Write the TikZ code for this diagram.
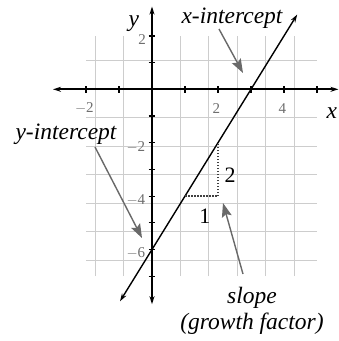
\documentclass[tikz,border=0pt]{standalone}
\usepackage{fontspec}
\setmainfont{Liberation Serif}
\usetikzlibrary{arrows.meta}
\definecolor{gridgray}{RGB}{205,205,205}
\definecolor{annot}{RGB}{105,105,105}
\definecolor{ticklbl}{RGB}{110,110,110}
\tikzset{
  gridline/.style={draw=gridgray, line width=0.9pt},
  axisline/.style={draw=black, line width=1.7pt, {Stealth[length=8pt,width=5pt]}-{Stealth[length=8pt,width=5pt]}},
  tickmark/.style={draw=black, line width=1.2pt},
  graphline/.style={draw=black, line width=1.4pt, {Stealth[length=8pt,width=5pt]}-{Stealth[length=8pt,width=5pt]}},
  slopetri/.style={draw=black!75, line width=1.6pt, dash pattern=on 1.5pt off 1.5pt},
  pointer/.style={draw=annot, line width=1.4pt, -{Stealth[length=14pt,width=10pt,inset=2.5pt]}},
  lbl/.style={font=\fontsize{23.5}{26}\selectfont\itshape, inner sep=0pt},
  ticklabel/.style={font=\fontsize{15}{16}\selectfont, text=ticklbl, inner sep=0pt},
  numlbl/.style={font=\fontsize{22}{24}\selectfont, inner sep=0pt},
}
\begin{document}
\begin{tikzpicture}[x=1pt,y=1pt]
\useasboundingbox (0,0) rectangle (339,-341);
\begin{scope}[shift={(152pt,-89.3pt)}, x=33pt, y=26.7pt]
  % grid
  \draw[gridline] (-2,-7) grid (5,2);
  % axes
  \coordinate (xl) at (-3,0);
  \coordinate (xr) at (5.65,0);
  \coordinate (yt) at (0,3.1);
  \coordinate (yb) at (0,-8.05);
  \draw[axisline] (xl) -- (xr);
  \draw[axisline] (yb) -- (yt);
  % ticks
  \foreach \i in {-2,-1,1,2,3,4,5}
    \draw[tickmark] (\i,-0.13) -- (\i,0.13);
  \foreach \j in {2,1,-1,-2,-3,-4,-5,-6,-7}
    \draw[tickmark] (-0.1,\j) -- (0.1,\j);
  % tick labels
  \node[ticklabel] (tx1) at (-2.05,-0.72) {$-$2};
  \node[ticklabel] (tx2) at (1.95,-0.72) {2};
  \node[ticklabel] (tx3) at (3.95,-0.72) {4};
  \node[ticklabel, anchor=east] (ty1) at (-0.18,1.85) {2};
  \node[ticklabel, anchor=east] (ty2) at (-0.2,-2.15) {$-$2};
  \node[ticklabel, anchor=east] (ty3) at (-0.2,-4.15) {$-$4};
  \node[ticklabel, anchor=east] (ty4) at (-0.2,-6.15) {$-$6};
  % axis names
  \node[lbl] (ylab) at (-0.55,2.45) {y};
  \node[lbl] (xlab) at (5.45,-0.88) {x};
  % line y = 2x - 6
  \coordinate (la) at (-0.97,-7.94);
  \coordinate (lb) at (4.4,2.8);
  \draw[graphline] (la) -- (lb);
  % slope triangle
  \coordinate (s1) at (1,-4);
  \coordinate (s2) at (2,-4);
  \coordinate (s3) at (2,-2);
  \draw[slopetri] (s1) -- (s2) -- (s3);
  \node[numlbl] (run) at (1.6,-4.75) {1};
  \node[numlbl] (rise) at (2.37,-3.2) {2};
\end{scope}
% annotations
\node[lbl] (xint) at (232,-18) {x-intercept};
\node[lbl] (yint) at (66,-134) {y-intercept};
\node[lbl] (slope) at (252,-298) {slope};
\node[lbl] (growth) at (252,-324) {(growth factor)};
\coordinate (xa) at (219,-29);
\coordinate (xb) at (243,-73);
\coordinate (ya) at (95,-147);
\coordinate (yb2) at (142,-238);
\coordinate (sa) at (243,-274);
\coordinate (sb) at (223,-203);
\draw[pointer] (xa) -- (xb);
\draw[pointer] (ya) -- (yb2);
\draw[pointer] (sa) -- (sb);
\end{tikzpicture}
\end{document}
